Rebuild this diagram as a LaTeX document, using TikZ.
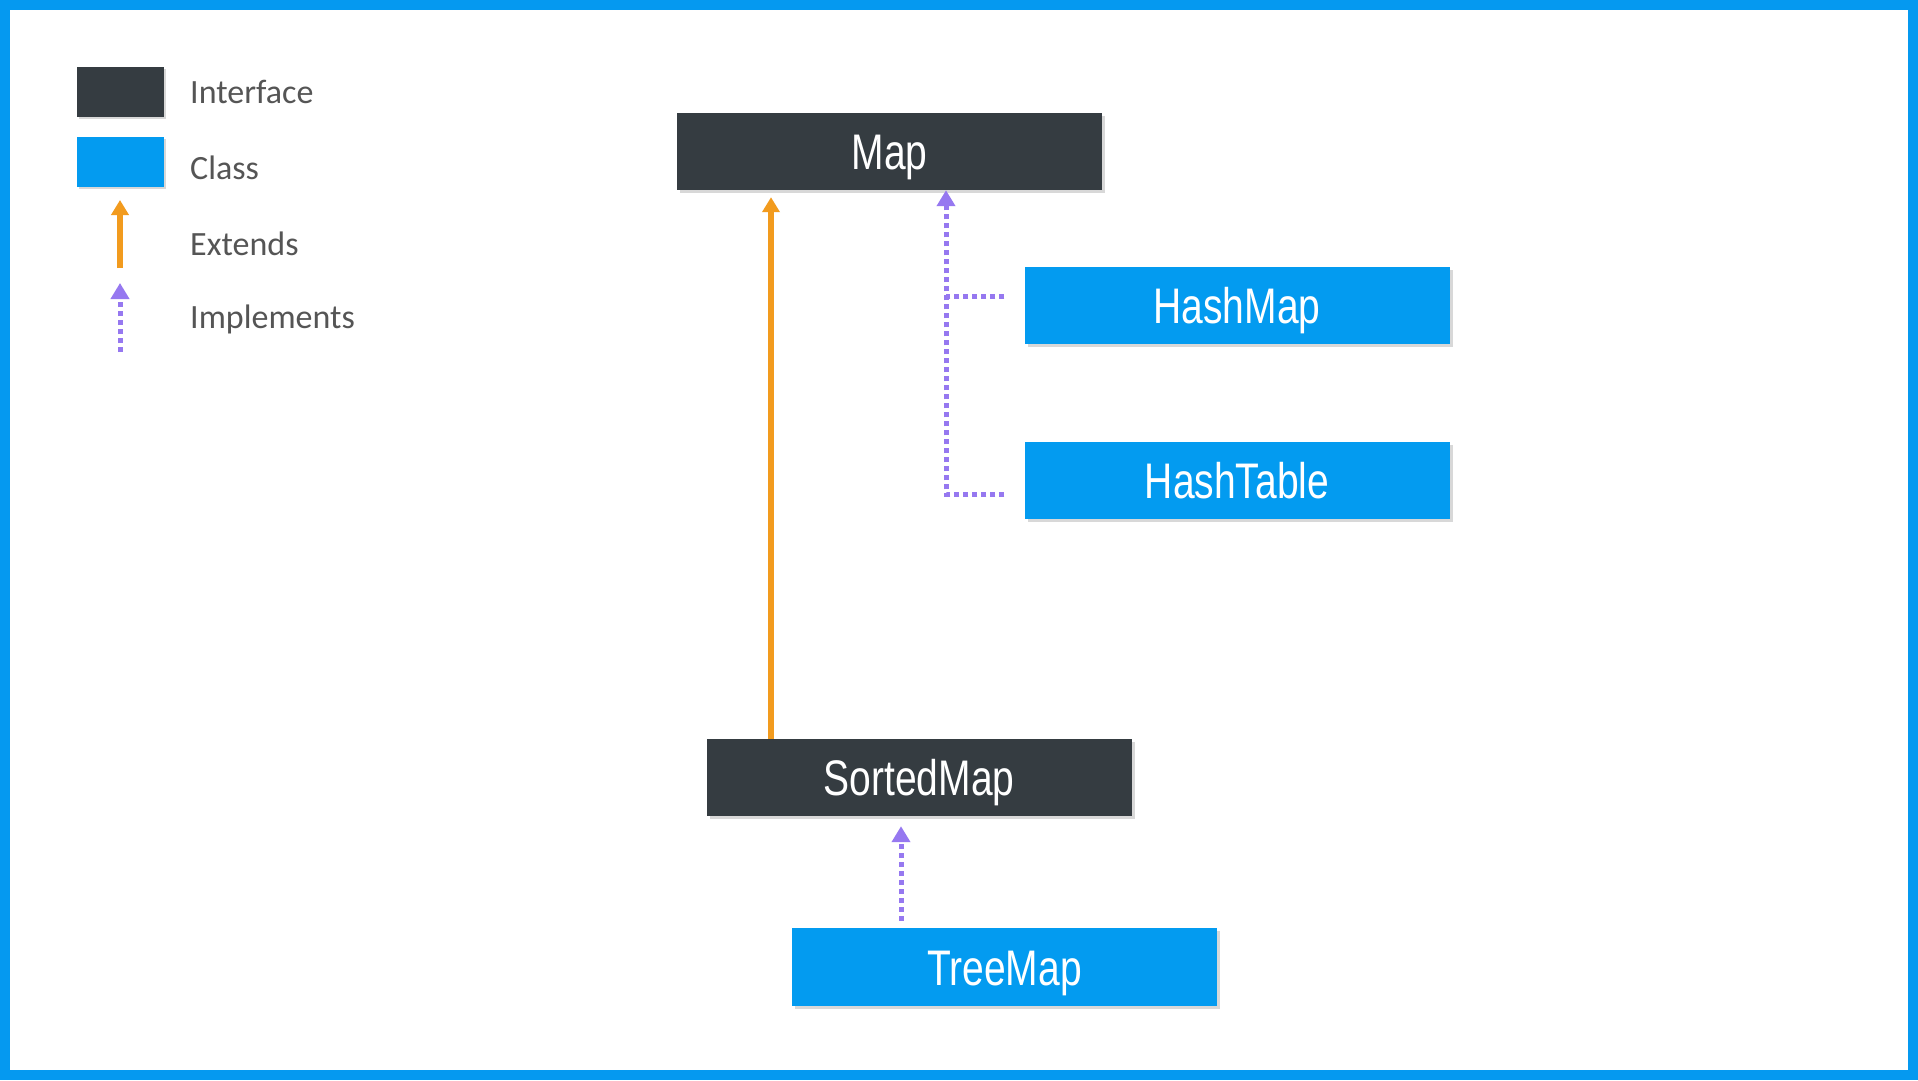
\documentclass[tikz,border=0pt]{standalone}
\usepackage{fontspec}
\setmainfont{Carlito}
\newfontfamily\boxfont[FakeStretch=0.78]{Liberation Sans}
\usetikzlibrary{arrows.meta,shadows}
\definecolor{ifc}{RGB}{53,60,65}
\definecolor{cls}{RGB}{3,155,240}
\definecolor{framec}{RGB}{5,153,240}
\definecolor{extc}{RGB}{242,155,30}
\definecolor{impc}{RGB}{150,120,240}
\definecolor{legtext}{RGB}{85,85,85}
\begin{document}
\begin{tikzpicture}[x=1pt,y=-1pt,
  boxbase/.style={rectangle, inner sep=0pt, minimum width=425pt, minimum height=77pt,
    text=white, font=\boxfont\fontsize{50}{50}\selectfont, text height=36pt, text depth=0pt,
    drop shadow={opacity=0.3, shadow xshift=3pt, shadow yshift=-3pt}},
  ifacebox/.style={boxbase, fill=ifc},
  classbox/.style={boxbase, fill=cls},
  legbox/.style={rectangle, inner sep=0pt, minimum width=87pt, minimum height=50pt,
    drop shadow={opacity=0.3, shadow xshift=2pt, shadow yshift=-2pt}},
  extarrow/.style={draw=extc, line width=5.5pt, -{Triangle[width=17pt,length=15pt]}},
  implline/.style={draw=impc, line width=5pt, dash pattern=on 5pt off 4pt},
  implarrow/.style={implline, -{Triangle[width=18pt,length=16pt]}},
  legtxt/.style={anchor=base west, inner sep=0pt, text=legtext, font=\fontsize{34}{34}\selectfont}
]
\useasboundingbox (0,0) rectangle (1918,1080);
\fill[framec] (0,0) rectangle (1918,1080);
\fill[white] (10,10) rectangle (1908,1070);

% legend
\node[legbox, fill=ifc] (legI) at (120.5,91.5) {};
\node[legbox, fill=cls] (legC) at (120.5,161.5) {};
\coordinate (legEa) at (120,268);
\coordinate (legEb) at (120,200);
\draw[extarrow] (legEa) -- (legEb);
\coordinate (legPa) at (120,352);
\coordinate (legPb) at (120,283);
\draw[implarrow] (legPa) -- (legPb);
\node[legtxt] (tI) at (190,103) {Interface};
\node[legtxt] (tC) at (190,179) {Class};
\node[legtxt] (tE) at (190,255) {Extends};
\node[legtxt] (tP) at (190,328) {Implements};

% nodes
\node[ifacebox] (map) at (889.5,151.5) {Map};
\node[classbox] (hashmap) at (1237,305) {HashMap};
\node[classbox] (hashtable) at (1237,480) {HashTable};
\node[ifacebox] (sortedmap) at (919,777.5) {SortedMap};
\node[classbox, minimum height=78pt] (treemap) at (1004.5,967) {TreeMap};

% connectors
\coordinate (ex) at (771,0);
\draw[extarrow, shorten >=7pt] (sortedmap.north -| ex) -- (map.south -| ex);

\coordinate (jx) at (946,0);
\coordinate (hmy) at (0,296);
\coordinate (hty) at (0,494);
\draw[implline, shorten <=20pt] (hashmap.west |- hmy) -- (hmy -| jx);
\draw[implarrow, shorten <=20pt] (hashtable.west |- hty) -| (map.south -| jx);

\coordinate (tx) at (901,0);
\draw[implarrow, shorten <=7pt, shorten >=10pt] (treemap.north -| tx) -- (sortedmap.south -| tx);
\end{tikzpicture}
\end{document}
